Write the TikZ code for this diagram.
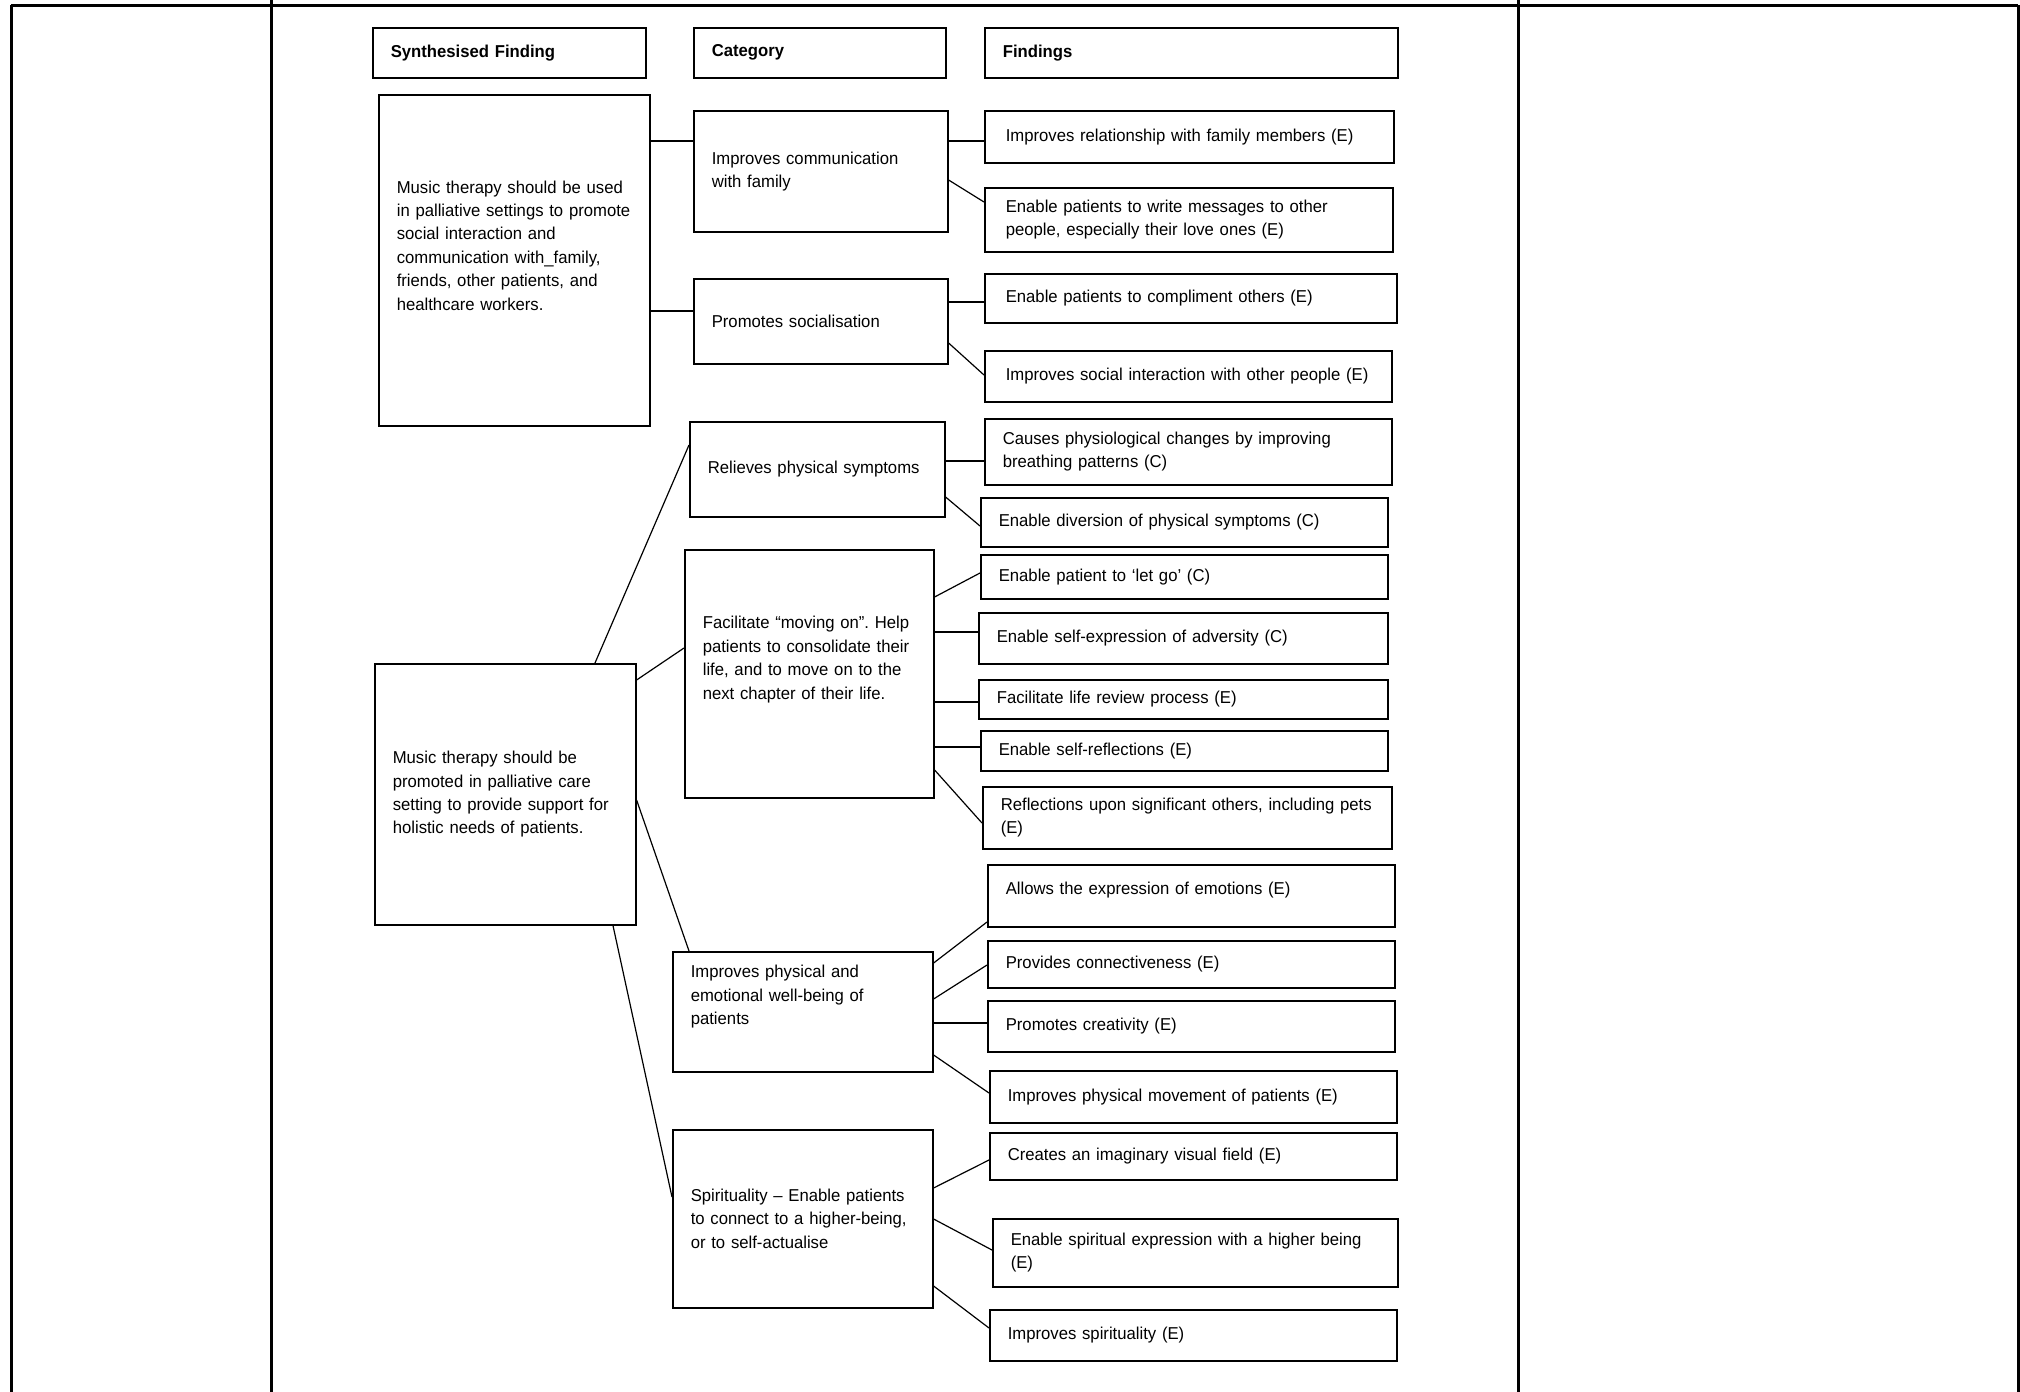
\documentclass[tikz,border=0pt]{standalone}
\usepackage{fontspec}
\setmainfont[FakeStretch=0.97]{Liberation Sans}
\frenchspacing
\tikzset{
 boxpad/.store in=\boxpad, boxpad=9pt,
 box/.style 2 args={
  % width and height in pixels of the page
  draw, line width=0.8pt, anchor=north west, align=left,
  inner xsep=\boxpad, inner ysep=0pt,
  minimum height=#2*0.5pt, text width=#1*0.5pt-2*\boxpad,
  font=\fontsize{8.6}{11.7}\selectfont
 },
 link/.style={line width=0.6pt},
 frame/.style={line width=1.5pt}
}

\begin{document}
\begin{tikzpicture}[x=0.5pt, y=-0.5pt]
 \useasboundingbox (0,0) rectangle (2020,1392);

 \draw [frame] (11,5) -- (2018,5);
 \draw [frame] (11,5) -- (11,1392);
 \draw [frame] (271,0) -- (271,1392);
 \draw [frame] (1518,0) -- (1518,1392);
 \draw [frame] (2018,5) -- (2018,1392);

 \node [box={273}{50}] (hdrsyn) at (372,27) {\textbf{Synthesised Finding}};
 \node [box={252}{50}] (hdrcat) at (693,27) {\textbf{Category}};
 \node [box={413}{50}] (hdrfind) at (984,27) {\textbf{Findings}};

 \node [box={271}{331}] (syn1) at (378,94) {Music therapy should be used\\ in palliative settings to promote\\ social interaction and\\ communication with\_family,\\ friends, other patients, and\\ healthcare workers.\\[3.3pt]\mbox{}};
 \node [box={261}{261}] (syn2) at (374,663) {Music therapy should be\\ promoted in palliative care\\ setting to provide support for\\ holistic needs of patients.};

 \node [box={254}{121}] (catcomm) at (693,110) {Improves communication\\ with family};
 \node [box={254}{85}] (catsocial) at (693,278) {Promotes socialisation};
 \node [box={255}{95}] (catsympt) at (689,421) {Relieves physical symptoms};
 \node [box={249}{248}] (catmove) at (684,549) {Facilitate “moving on”. Help\\ patients to consolidate their\\ life, and to move on to the\\ next chapter of their life.\\[4.3pt]\mbox{}};
 \node [box={260}{120}] (catwell) at (672,951) {Improves physical and\\ emotional well-being of\\ patients\\[5pt]\mbox{}};
 \node [box={260}{178}] (catspirit) at (672,1129) {Spirituality -- Enable patients\\ to connect to a higher-being,\\ or to self-actualise};

 \node [boxpad=10.5pt, box={409}{52}] (fnd1) at (984,110) {Improves relationship with family members (E)};
 \node [boxpad=10.5pt, box={408}{64}] (fnd2) at (984,187) {Enable patients to write messages to other\\ people, especially their love ones (E)};
 \node [boxpad=10.5pt, box={412}{49}] (fnd3) at (984,273) {Enable patients to compliment others (E)};
 \node [boxpad=10.5pt, box={407}{51}] (fnd4) at (984,350) {Improves social interaction with other people (E)};
 \node [box={407}{66}] (fnd5) at (984,418) {Causes physiological changes by improving\\ breathing patterns (C)};
 \node [box={407}{49}] (fnd6) at (980,497) {Enable diversion of physical symptoms (C)};
 \node [box={407}{44}] (fnd7) at (980,554) {Enable patient to ‘let go’ (C)};
 \node [box={409}{51}] (fnd8) at (978,612) {Enable self-expression of adversity (C)};
 \node [box={409}{39}] (fnd9) at (978,679) {Facilitate life review process (E)};
 \node [box={407}{40}] (fnd10) at (980,730) {Enable self-reflections (E)};
 \node [box={409}{62}] (fnd11) at (982,786) {Reflections upon significant others, including pets\\ (E)};
 \node [box={407}{62}] (fnd12) at (987,864) {Allows the expression of emotions (E)\\[-4pt]\mbox{}};
 \node [box={407}{47}] (fnd13) at (987,940) {Provides connectiveness (E)};
 \node [box={407}{51}] (fnd14) at (987,1000) {Promotes creativity (E)};
 \node [box={407}{52}] (fnd15) at (989,1070) {Improves physical movement of patients (E)};
 \node [box={407}{47}] (fnd16) at (989,1132) {Creates an imaginary visual field (E)};
 \node [box={405}{68}] (fnd17) at (992,1218) {Enable spiritual expression with a higher being\\ (E)};
 \node [box={407}{51}] (fnd18) at (989,1309) {Improves spirituality (E)};

 \draw [link] (syn1.east |- 0,141) -- (catcomm.west |- 0,141);
 \draw [link] (syn1.east |- 0,311) -- (catsocial.west |- 0,311);
 \draw [link] (syn2.north -| 595,0) -- (catsympt.west |- 0,445);
 \draw [link] (syn2.east |- 0,680) -- (catmove.west |- 0,648);
 \draw [link] (syn2.east |- 0,800) -- (catwell.north -| 689,0);
 \draw [link] (syn2.south -| 613,0) -- (catspirit.west |- 0,1197);

 \draw [link] (catcomm.east |- 0,141) -- (fnd1.west |- 0,141);
 \draw [link] (catcomm.east |- 0,180) -- (fnd2.west |- 0,202);
 \draw [link] (catsocial.east |- 0,302) -- (fnd3.west |- 0,302);
 \draw [link] (catsocial.east |- 0,343) -- (fnd4.west |- 0,375);
 \draw [link] (catsympt.east |- 0,461) -- (fnd5.west |- 0,461);
 \draw [link] (catsympt.east |- 0,497) -- (fnd6.west |- 0,526);
 \draw [link] (catmove.east |- 0,597) -- (fnd7.west |- 0,573);
 \draw [link] (catmove.east |- 0,632) -- (fnd8.west |- 0,632);
 \draw [link] (catmove.east |- 0,702) -- (fnd9.west |- 0,702);
 \draw [link] (catmove.east |- 0,747) -- (fnd10.west |- 0,747);
 \draw [link] (catmove.east |- 0,770) -- (fnd11.west |- 0,823);
 \draw [link] (catwell.east |- 0,963) -- (fnd12.west |- 0,922);
 \draw [link] (catwell.east |- 0,999) -- (fnd13.west |- 0,965);
 \draw [link] (catwell.east |- 0,1023) -- (fnd14.west |- 0,1023);
 \draw [link] (catwell.east |- 0,1055) -- (fnd15.west |- 0,1093);
 \draw [link] (catspirit.east |- 0,1188) -- (fnd16.west |- 0,1160);
 \draw [link] (catspirit.east |- 0,1219) -- (fnd17.west |- 0,1250);
 \draw [link] (catspirit.east |- 0,1286) -- (fnd18.west |- 0,1328);
\end{tikzpicture}
\end{document}
